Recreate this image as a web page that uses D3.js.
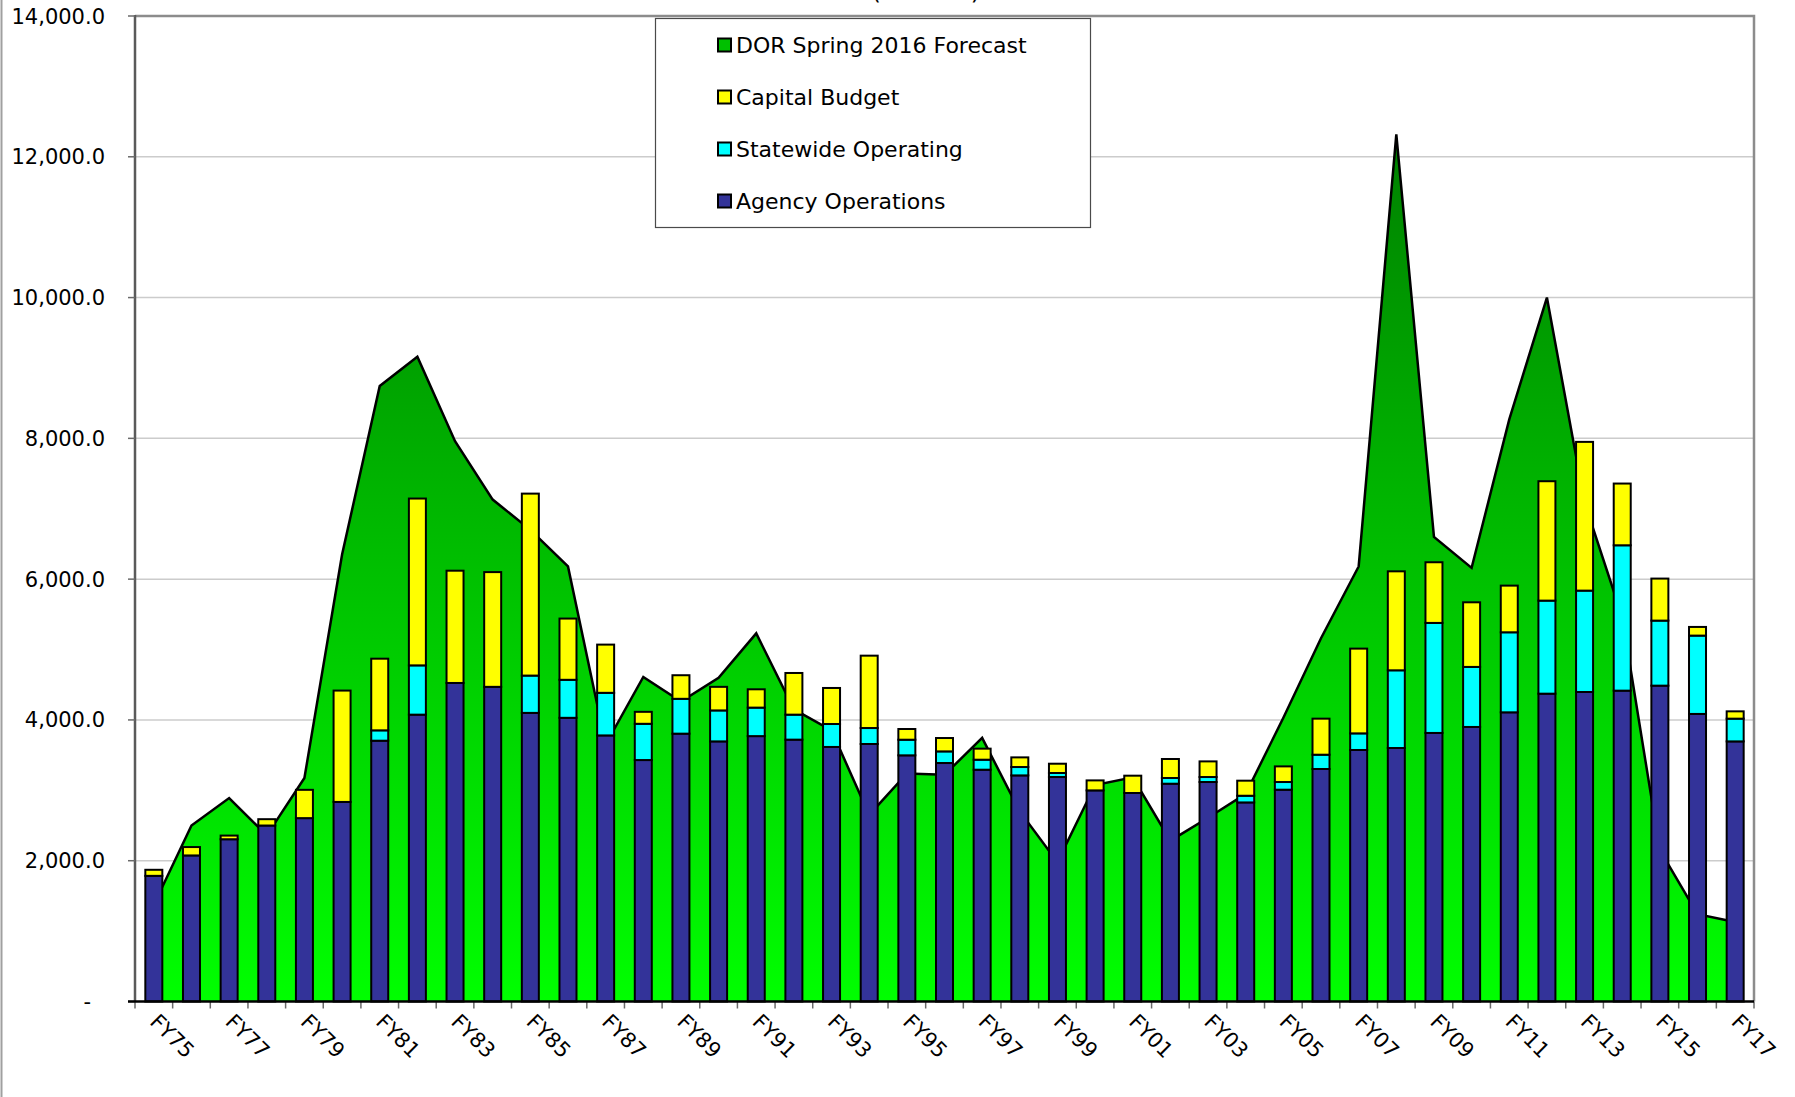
<!DOCTYPE html>
<html>
<head>
<meta charset="utf-8">
<script src="https://cdn.jsdelivr.net/npm/d3@7"></script>
<style>
body { margin: 0; background: #fff; }
svg { display: block; font-family: "DejaVu Sans", Verdana, sans-serif; }
</style>
</head>
<body>
<svg id="chart" width="1795" height="1097"></svg>
<script>
// fiscal years on the category axis
var years = ["FY75","FY76","FY77","FY78","FY79","FY80","FY81","FY82","FY83","FY84",
	     "FY85","FY86","FY87","FY88","FY89","FY90","FY91","FY92","FY93","FY94",
	     "FY95","FY96","FY97","FY98","FY99","FY00","FY01","FY02","FY03","FY04",
	     "FY05","FY06","FY07","FY08","FY09","FY10","FY11","FY12","FY13","FY14",
	     "FY15","FY16","FY17"];

// stacked columns (millions)
var agencyOps = [1785, 2075, 2305, 2500, 2605, 2835, 3705, 4075, 4525, 4470,
		 4100, 4030, 3780, 3430, 3805, 3695, 3770, 3720, 3616, 3658,
		 3497, 3388, 3293, 3212, 3189, 2999, 2962, 3094, 3118, 2828,
		 3009, 3303, 3573, 3601, 3815, 3900, 4108, 4373, 4397, 4416,
		 4487, 4085, 3695];
var statewideOps = [0, 0, 0, 0, 0, 0, 147, 700, 0, 0,
		    530, 540, 605, 515, 495, 440, 405, 355, 326, 227,
		    222, 165, 142, 119, 57, 0, 0, 81, 71, 95,
		    109, 203, 236, 1104, 1563, 853, 1137, 1322, 1440, 2065,
		    924, 1113, 323];
var capitalBudget = [86, 119, 52, 90, 402, 1582, 1018, 2370, 1595, 1630,
		     2585, 870, 685, 170, 335, 335, 260, 592, 512, 1028,
		     152, 190, 157, 137, 132, 142, 246, 270, 222, 214,
		     222, 512, 1204, 1406, 862, 918, 663, 1696, 2113, 877,
		     597, 123, 104];

// area series
var dorForecast = [1375, 2500, 2890, 2360, 3175, 6350, 8745, 9160, 7960, 7130,
		   6700, 6180, 3650, 4610, 4260, 4600, 5230, 4150, 3850, 2650,
		   3240, 3220, 3745, 2700, 1980, 3075, 3185, 2285, 2610, 2950,
		   4030, 5160, 6180, 12320, 6600, 6160, 8270, 10000, 7090, 5460,
		   2150, 1240, 1130];

var yTicks = [0, 2000, 4000, 6000, 8000, 10000, 12000, 14000];
var xLabels = years.filter(function(d, i) { return i % 2 == 0; });
var legendNames = ["DOR Spring 2016 Forecast", "Capital Budget", "Statewide Operating", "Agency Operations"];
var legendColors = ["#00c000", "#ffff00", "#00ffff", "#333399"];
var stackKeys = ["agency", "statewide", "capital"];
var stackColors = { agency: "#333399", statewide: "#00ffff", capital: "#ffff00" };

var svg = d3.select("#chart");

var plotLeft = 135, plotRight = 1754, plotTop = 16, plotBottom = 1001.5;

var x = d3.scaleBand().domain(years).range([plotLeft, plotRight]).padding(0);
var y = d3.scaleLinear().domain([0, 14000]).range([plotBottom, plotTop]);
var cx = function(yr) { return x(yr) + x.bandwidth() / 2; };

// chart border on the left
svg.append("line")
    .attr("x1", 1.5).attr("x2", 1.5).attr("y1", 0).attr("y2", 1097)
    .attr("stroke", "#a0a0a0").attr("stroke-width", 2);

// title, mostly above the picture
svg.append("text")
    .attr("x", 980).attr("y", -1)
    .attr("text-anchor", "end")
    .attr("font-size", 24)
    .text("(Millions)");

// gradient for the forecast area
var defs = svg.append("defs");
var grad = defs.append("linearGradient")
    .attr("id", "dorGrad")
    .attr("gradientUnits", "userSpaceOnUse")
    .attr("x1", 0).attr("x2", 0)
    .attr("y1", y(12320)).attr("y2", y(0));
grad.append("stop").attr("offset", 0).attr("stop-color", "#008000");
grad.append("stop").attr("offset", 1).attr("stop-color", "#00ff00");

// gridlines
svg.append("g").selectAll("line")
    .data(yTicks.filter(function(t) { return t > 0 && t < 14000; }))
    .enter().append("line")
    .attr("x1", plotLeft).attr("x2", plotRight)
    .attr("y1", function(d) { return y(d); })
    .attr("y2", function(d) { return y(d); })
    .attr("stroke", "#cccccc").attr("stroke-width", 1.5);

// plot frame top + right
svg.append("path")
    .attr("d", "M" + plotLeft + "," + y(14000) + "H" + plotRight + "V" + plotBottom)
    .attr("fill", "none").attr("stroke", "#8c8c8c").attr("stroke-width", 2.5);

// the forecast area
var area = d3.area()
    .x(function(d, i) { return cx(years[i]); })
    .y0(y(0))
    .y1(function(d) { return y(d); });
var line = d3.line()
    .x(function(d, i) { return cx(years[i]); })
    .y(function(d) { return y(d); });

svg.append("path")
    .datum(dorForecast)
    .attr("d", area)
    .attr("fill", "url(#dorGrad)");
svg.append("path")
    .datum(dorForecast)
    .attr("d", line)
    .attr("fill", "none")
    .attr("stroke", "#000")
    .attr("stroke-width", 2.5)
    .attr("stroke-linejoin", "miter");

// stacked columns
var table = years.map(function(yr, i) {
    return { year: yr, agency: agencyOps[i], statewide: statewideOps[i], capital: capitalBudget[i] };
});
var stacked = d3.stack().keys(stackKeys)(table);
var barW = 17;

var layers = svg.append("g").selectAll("g")
    .data(stacked)
    .enter().append("g")
    .attr("fill", function(d) { return stackColors[d.key]; });

layers.selectAll("rect")
    .data(function(d) { return d.filter(function(s) { return s[1] > s[0]; }); })
    .enter().append("rect")
    .attr("x", function(d) { return cx(d.data.year) - barW / 2; })
    .attr("width", barW)
    .attr("y", function(d) { return y(d[1]); })
    .attr("height", function(d) { return y(d[0]) - y(d[1]); })
    .attr("stroke", "#000")
    .attr("stroke-width", 2);

// y axis
svg.append("line")
    .attr("x1", plotLeft).attr("x2", plotLeft).attr("y1", plotTop - 1).attr("y2", plotBottom)
    .attr("stroke", "#5a5a5a").attr("stroke-width", 2.5);

var yAxis = svg.append("g");
yAxis.selectAll("line")
    .data(yTicks)
    .enter().append("line")
    .attr("x1", plotLeft - 7).attr("x2", plotLeft)
    .attr("y1", function(d) { return y(d); })
    .attr("y2", function(d) { return y(d); })
    .attr("stroke", "#6a6a6a").attr("stroke-width", 1.5);
yAxis.selectAll("text")
    .data(yTicks)
    .enter().append("text")
    .attr("x", function(d) { return d == 0 ? 91 : 105; })
    .attr("y", function(d) { return y(d) + 7.5; })
    .attr("text-anchor", "end")
    .attr("font-size", 21)
    .attr("fill", "#000")
    .text(function(d) { return d == 0 ? "-" : d3.format(",.1f")(d); });

// x axis
var bounds = years.map(function(yr) { return x(yr); }).concat([plotRight]);
svg.append("g").selectAll("line")
    .data(bounds)
    .enter().append("line")
    .attr("x1", function(d) { return d; })
    .attr("x2", function(d) { return d; })
    .attr("y1", plotBottom).attr("y2", plotBottom + 7)
    .attr("stroke", "#6a6a6a").attr("stroke-width", 1.5);
svg.append("line")
    .attr("x1", plotLeft - 7).attr("x2", plotRight).attr("y1", plotBottom).attr("y2", plotBottom)
    .attr("stroke", "#000").attr("stroke-width", 2.5);

svg.append("g").selectAll("text")
    .data(xLabels)
    .enter().append("text")
    .attr("transform", function(d) { return "translate(" + (cx(d) - 5) + "," + 1023 + ") rotate(45)"; })
    .attr("font-size", 21)
    .attr("fill", "#000")
    .text(function(d) { return d; });

// legend
var legend = svg.append("g");
legend.append("rect")
    .attr("x", 655.5).attr("y", 18.5).attr("width", 435).attr("height", 209)
    .attr("fill", "#fff").attr("stroke", "#4a4a4a").attr("stroke-width", 1.2);
var rowY = [45, 97, 149, 201];
var items = legend.selectAll("g.item")
    .data(legendNames)
    .enter().append("g")
    .attr("class", "item")
    .attr("transform", function(d, i) { return "translate(0," + rowY[i] + ")"; });
items.append("rect")
    .attr("x", 718).attr("y", -6.5).attr("width", 13).attr("height", 13)
    .attr("fill", function(d, i) { return legendColors[i]; })
    .attr("stroke", "#000").attr("stroke-width", 2);
items.append("text")
    .attr("x", 736).attr("y", 8.3)
    .attr("font-size", 22)
    .attr("fill", "#000")
    .text(function(d) { return d; });
</script>
</body>
</html>
